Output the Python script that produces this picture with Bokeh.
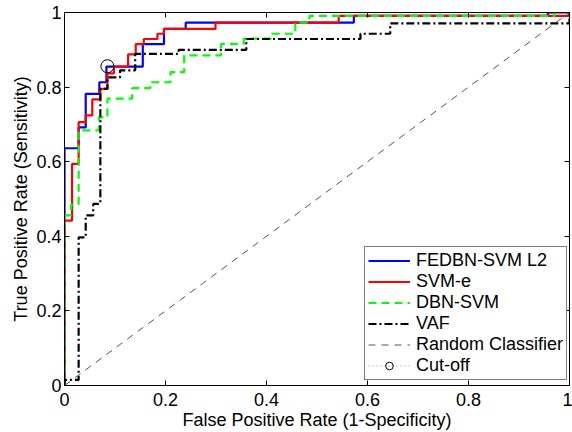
from bokeh.plotting import figure
from bokeh.models import Range1d, FixedTicker, LinearAxis, Legend, LegendItem
from bokeh.embed import file_html
from bokeh.resources import INLINE

# ROC operating points (FPR, TPR); curves are drawn as "after" steps
fedbn_fpr = [0, 0, 0.028, 0.042, 0.069, 0.083, 0.155, 0.197, 0.240, 0.573, 0.957, 1.0]
fedbn_tpr = [0, 0.636, 0.692, 0.782, 0.813, 0.855, 0.915, 0.956, 0.973, 0.991, 1.0, 1.0]

svme_fpr = [0, 0, 0.015, 0.028, 0.042, 0.055, 0.071, 0.085, 0.098, 0.126, 0.141,
            0.157, 0.184, 0.197, 0.299, 0.543, 1.0]
svme_tpr = [0, 0.442, 0.594, 0.706, 0.724, 0.767, 0.795, 0.837, 0.855, 0.888, 0.915,
            0.929, 0.943, 0.956, 0.973, 0.991, 1.0]

dbn_fpr = [0, 0, 0.013, 0.028, 0.068, 0.085, 0.134, 0.170, 0.210, 0.237, 0.310,
           0.355, 0.411, 0.457, 0.485, 0.970, 1.0]
dbn_tpr = [0, 0.456, 0.485, 0.684, 0.719, 0.769, 0.797, 0.813, 0.840, 0.885, 0.916,
           0.930, 0.943, 0.973, 0.991, 1.0, 1.0]

vaf_fpr = [0, 0, 0.028, 0.042, 0.057, 0.071, 0.085, 0.110, 0.140, 0.226, 0.360,
           0.586, 0.645, 1.0]
vaf_tpr = [0, 0.015, 0.397, 0.456, 0.487, 0.795, 0.826, 0.845, 0.889, 0.900, 0.929,
           0.943, 0.971, 1.0]

chance_fpr = [0, 1]
chance_tpr = [0, 1]

cutoff_fpr = [0.085]
cutoff_tpr = [0.856]

tick_values = [0, 0.2, 0.4, 0.6, 0.8, 1]
tick_labels = ["0", "0.2", "0.4", "0.6", "0.8", "1"]

FONT = "Liberation Sans"
FS = "18px"
LW = 2.2

p = figure(width=572, height=432, output_backend="svg", toolbar_location=None,
           x_range=Range1d(0, 1), y_range=Range1d(0, 1),
           min_border_left=64, min_border_right=3, min_border_top=12,
           min_border_bottom=47)
p.grid.visible = False
p.outline_line_color = "black"
p.outline_line_width = 1
p.background_fill_color = "white"
p.border_fill_color = "white"

overrides = dict(zip(tick_values, tick_labels))
for ax in (p.xaxis[0], p.yaxis[0]):
    ax.ticker = FixedTicker(ticks=tick_values)
    ax.major_label_overrides = overrides
    ax.major_label_text_font = FONT
    ax.major_label_text_font_size = FS
    ax.major_label_text_color = "black"
    ax.axis_label_text_font = FONT
    ax.axis_label_text_font_size = FS
    ax.axis_label_text_font_style = "normal"
    ax.axis_label_text_color = "black"
    ax.major_tick_in = 5
    ax.major_tick_out = 0
    ax.minor_tick_in = 0
    ax.minor_tick_out = 0
    ax.axis_line_color = "black"

p.xaxis[0].axis_label = "False Positive Rate (1-Specificity)"
p.yaxis[0].axis_label = "True Positive Rate (Sensitivity)"
p.xaxis[0].major_label_standoff = 7
p.yaxis[0].major_label_standoff = 3
p.xaxis[0].axis_label_standoff = 1
p.yaxis[0].axis_label_standoff = 2

# box ticks on the top and right edges, pointing inward, without labels
for side in ("above", "right"):
    ax = LinearAxis(ticker=FixedTicker(ticks=tick_values))
    ax.major_label_text_font_size = "0px"
    ax.major_label_standoff = 0
    ax.major_tick_in = 5
    ax.major_tick_out = 0
    ax.minor_tick_in = 0
    ax.minor_tick_out = 0
    ax.axis_line_color = "black"
    p.add_layout(ax, side)

r_fedbn = p.step(fedbn_fpr, fedbn_tpr, mode="after", line_color="#0000ff", line_width=LW)
r_svme = p.step(svme_fpr, svme_tpr, mode="after", line_color="#ff0000", line_width=LW)
r_dbn = p.step(dbn_fpr, dbn_tpr, mode="after", line_color="#00ff00", line_width=LW,
               line_dash="8 5")
r_vaf = p.step(vaf_fpr, vaf_tpr, mode="after", line_color="black", line_width=LW,
               line_dash="8 3 2 3")
r_chance = p.line(chance_fpr, chance_tpr, line_color="#555555", line_width=1,
                  line_dash="7 6")
r_cut_line = p.line(cutoff_fpr, cutoff_tpr, line_color="#999999", line_width=1,
                    line_dash="1 3")
r_cut = p.scatter(cutoff_fpr, cutoff_tpr, marker="circle", size=13,
                  line_color="black", line_width=1, fill_color=None)

legend = Legend(items=[
    LegendItem(label="FEDBN-SVM L2", renderers=[r_fedbn]),
    LegendItem(label="SVM-e", renderers=[r_svme]),
    LegendItem(label="DBN-SVM", renderers=[r_dbn]),
    LegendItem(label="VAF", renderers=[r_vaf]),
    LegendItem(label="Random Classifier", renderers=[r_chance]),
    LegendItem(label="Cut-off", renderers=[r_cut_line, r_cut]),
], location=(300, 5))
legend.label_text_font = FONT
legend.label_text_font_size = FS
legend.label_text_color = "black"
legend.glyph_width = 42
legend.glyph_height = 19
legend.label_height = 19
legend.spacing = 0
legend.padding = 3
legend.margin = 0
legend.label_standoff = 6
legend.border_line_color = "black"
legend.border_line_width = 1
legend.background_fill_color = "white"
legend.background_fill_alpha = 1
p.add_layout(legend)

open("out.html", "w").write(file_html(p, INLINE))
